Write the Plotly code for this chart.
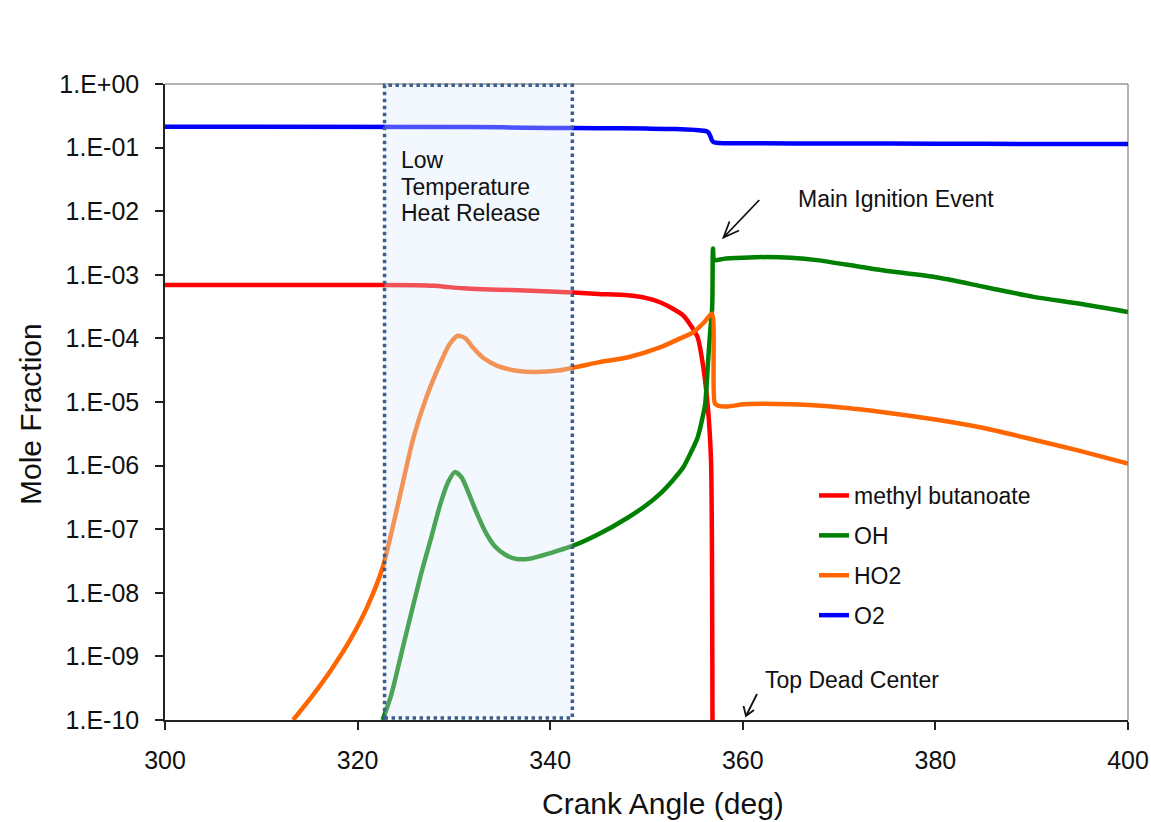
import plotly.graph_objects as go

# ---------------- data ----------------
mb_x = [300, 320, 326, 328, 329.5, 331, 333, 336, 340, 342.4, 345, 348, 350, 351.4, 352.6,
        353.8, 354.6, 355.3, 355.9, 356.4, 356.7, 356.8, 356.85, 356.9]
mb_y = [6.9e-4, 6.9e-4, 6.85e-4, 6.7e-4, 6.4e-4, 6.15e-4, 5.95e-4, 5.75e-4, 5.45e-4, 5.25e-4,
        5.0e-4, 4.75e-4, 4.3e-4, 3.7e-4, 3.0e-4, 2.3e-4, 1.6e-4, 1.05e-4, 3.5e-5, 7.4e-6,
        1.2e-6, 4.2e-8, 1e-10, 1e-12]

oh_x = [322.6, 323.5, 324.6, 325.6, 326.6, 327.6, 328.6, 329.4, 330.1, 330.8, 331.5, 332.3,
        333.2, 334.2, 335.3, 336.5, 338, 340, 341, 342.4, 345, 348, 350, 351.4, 352.7, 353.8,
        354.6, 355.3, 355.8, 356.1, 356.4, 356.6, 356.8, 356.85, 356.9, 357.0, 357.2, 358,
        360, 362.5, 365, 367.7, 372, 375, 379.8, 385, 390.2, 395, 400]
oh_y = [1e-10, 2.5e-10, 1.2e-9, 5e-9, 2e-8, 7e-8, 2.5e-7, 5.5e-7, 7.9e-7, 6.5e-7, 3.8e-7,
        1.9e-7, 9.5e-8, 5.5e-8, 4.0e-8, 3.4e-8, 3.47e-8, 4.2e-8, 4.7e-8, 5.5e-8, 8.3e-8, 1.5e-7,
        2.4e-7, 3.6e-7, 5.8e-7, 9.3e-7, 1.6e-6, 2.75e-6, 5.5e-6, 9.5e-6, 4.5e-5, 1.2e-4,
        2.75e-4, 5e-4, 2.6e-3, 1.75e-3, 1.7e-3, 1.78e-3, 1.85e-3, 1.9e-3, 1.85e-3, 1.7e-3,
        1.35e-3, 1.15e-3, 9.3e-4, 6.5e-4, 4.5e-4, 3.5e-4, 2.6e-4]

ho2_x = [313.3, 315.3, 317.3, 319.3, 321.0, 322.6, 324.2, 325.8, 327.2, 328.6, 329.5, 330.4,
         331.2, 332, 333, 334.5, 336.5, 338.5, 341, 345, 348, 351.4, 353.5, 354.9, 356, 356.8,
         357.1, 357.5, 358.4, 360, 362, 365, 370, 375, 380, 385, 390, 395, 400]
ho2_y = [1e-10, 2.4e-10, 6.3e-10, 1.9e-9, 6e-9, 2.5e-8, 2.5e-7, 2.75e-6, 1.25e-5, 4.1e-5, 7.9e-5,
         1.1e-4, 1.0e-4, 7.1e-5, 5e-5, 3.7e-5, 3.1e-5, 2.95e-5, 3.15e-5, 4.2e-5, 5e-5, 7.2e-5,
         1.0e-4, 1.26e-4, 1.8e-4, 2.45e-4, 9.5e-6, 8.7e-6, 8.5e-6, 9.2e-6, 9.4e-6, 9.2e-6,
         8.3e-6, 6.8e-6, 5.3e-6, 3.9e-6, 2.6e-6, 1.7e-6, 1.08e-6]

o2_x = [300, 330, 335, 340, 345, 350, 353, 355, 356.0, 356.4, 356.6, 356.8, 357.0, 357.5,
        360, 370, 380, 390, 400]
o2_y = [0.213, 0.211, 0.208, 0.204, 0.202, 0.199, 0.196, 0.19, 0.184, 0.175, 0.155, 0.13,
        0.121, 0.118, 0.117, 0.116, 0.115, 0.114, 0.1135]

series_names = ["methyl butanoate", "OH", "HO2", "O2"]
series_colors = ["#ff0000", "#008000", "#ff6600", "#0000ff"]

x_ticks = [300, 320, 340, 360, 380, 400]
y_ticks = [1, 1e-1, 1e-2, 1e-3, 1e-4, 1e-5, 1e-6, 1e-7, 1e-8, 1e-9, 1e-10]
y_ticktext = ["1.E+00", "1.E-01", "1.E-02", "1.E-03", "1.E-04", "1.E-05",
              "1.E-06", "1.E-07", "1.E-08", "1.E-09", "1.E-10"]

ltr_range = [322.8, 342.3]  # low temperature heat release window (deg)

# ---------------- layout geometry ----------------
W, H = 1151, 822
ML, MR, MT, MB = 165, 23, 84, 102
PW, PH = W - ML - MR, H - MT - MB
FONT = "Liberation Sans, Arial, sans-serif"


def pp(xp, yp):
    """pixel -> paper coordinates"""
    return (xp - ML) / PW, (H - MB - yp) / PH


fig = go.Figure()
for xs, ys, name, col, g in zip([mb_x, oh_x, ho2_x, o2_x], [mb_y, oh_y, ho2_y, o2_y],
                                series_names, series_colors, range(4)):
    fig.add_trace(go.Scatter(x=xs, y=ys, mode="lines", name=name, legendgroup=str(g),
                             line=dict(color=col, width=4.5, shape="spline", smoothing=0.7)))

shapes = []
# LTHR box (translucent, over the curves)
shapes.append(dict(type="rect", xref="x", yref="paper", x0=ltr_range[0], x1=ltr_range[1],
                   y0=0.003, y1=0.998, layer="above",
                   fillcolor="rgba(218,234,249,0.35)",
                   line=dict(color="#3d5f8f", width=3.5, dash="dot")))
# top & right frame lines (gray)
shapes.append(dict(type="line", xref="paper", yref="paper", x0=0, x1=1, y0=1, y1=1,
                   line=dict(color="#999999", width=1.5), layer="below"))
shapes.append(dict(type="line", xref="paper", yref="paper", x0=1, x1=1, y0=0, y1=1,
                   line=dict(color="#999999", width=1.5), layer="below"))


def arrow(tail, tip, w1, w2):
    t = pp(*tail); p = pp(*tip); a = pp(*w1); b = pp(*w2)
    path = (f"M{t[0]},{t[1]} L{p[0]},{p[1]} M{a[0]},{a[1]} L{p[0]},{p[1]} L{b[0]},{b[1]}")
    return dict(type="path", xref="paper", yref="paper", path=path,
                line=dict(color="#111111", width=1.8))


shapes.append(arrow((759.3, 200), (723.5, 237.5), (739, 230.5), (729.5, 221.5)))
shapes.append(arrow((757, 694), (746, 716), (743.5, 706), (754, 710)))

annotations = []


def label(text, xp, yp, size=23, xanchor="left", angle=0):
    x, y = pp(xp, yp)
    annotations.append(dict(text=text, x=x, y=y, xref="paper", yref="paper", showarrow=False,
                            xanchor=xanchor, yanchor="middle", textangle=angle,
                            font=dict(family=FONT, size=size, color="#111111")))


label("Low", 399, 160)
label("Temperature", 399, 186.5)
label("Heat Release", 399, 213)
label("Main Ignition Event", 796, 199)
label("Top Dead Center", 763, 680)
label("Crank Angle (deg)", 663, 803, size=30, xanchor="center")
label("Mole Fraction", 30, 414, size=30, xanchor="center", angle=-90)

fig.update_layout(
    width=W, height=H, autosize=False,
    margin=dict(l=ML, r=MR, t=MT, b=MB, pad=0, autoexpand=False),
    paper_bgcolor="white", plot_bgcolor="white",
    font=dict(family=FONT, size=25, color="#111111"),
    shapes=shapes, annotations=annotations,
    showlegend=True,
    legend=dict(x=pp(814, 0)[0], y=pp(0, 474)[1], xanchor="left", yanchor="top",
                bgcolor="rgba(0,0,0,0)", font=dict(family=FONT, size=23, color="#111111"),
                tracegroupgap=7, traceorder="grouped"),
)
fig.update_xaxes(range=[300, 400], tickvals=x_ticks, ticks="outside", ticklen=8, tickwidth=1.5,
                 tickcolor="#222222", showline=True, linecolor="#222222", linewidth=1.5,
                 showgrid=False, zeroline=False, ticklabelstandoff=9, automargin=False,
                 tickfont=dict(family=FONT, size=25, color="#111111"))
fig.update_yaxes(type="log", range=[-10, 0], tickvals=y_ticks, ticktext=y_ticktext,
                 ticks="outside", ticklen=8, tickwidth=1.5, tickcolor="#222222",
                 showline=True, linecolor="#222222", linewidth=1.5, showgrid=False,
                 zeroline=False, ticklabelstandoff=11, automargin=False,
                 tickfont=dict(family=FONT, size=25, color="#111111"))

fig.write_html("out.html", config={"displayModeBar": False, "responsive": False},
               post_script="document.body.style.margin='0';document.body.style.overflow='hidden';")
